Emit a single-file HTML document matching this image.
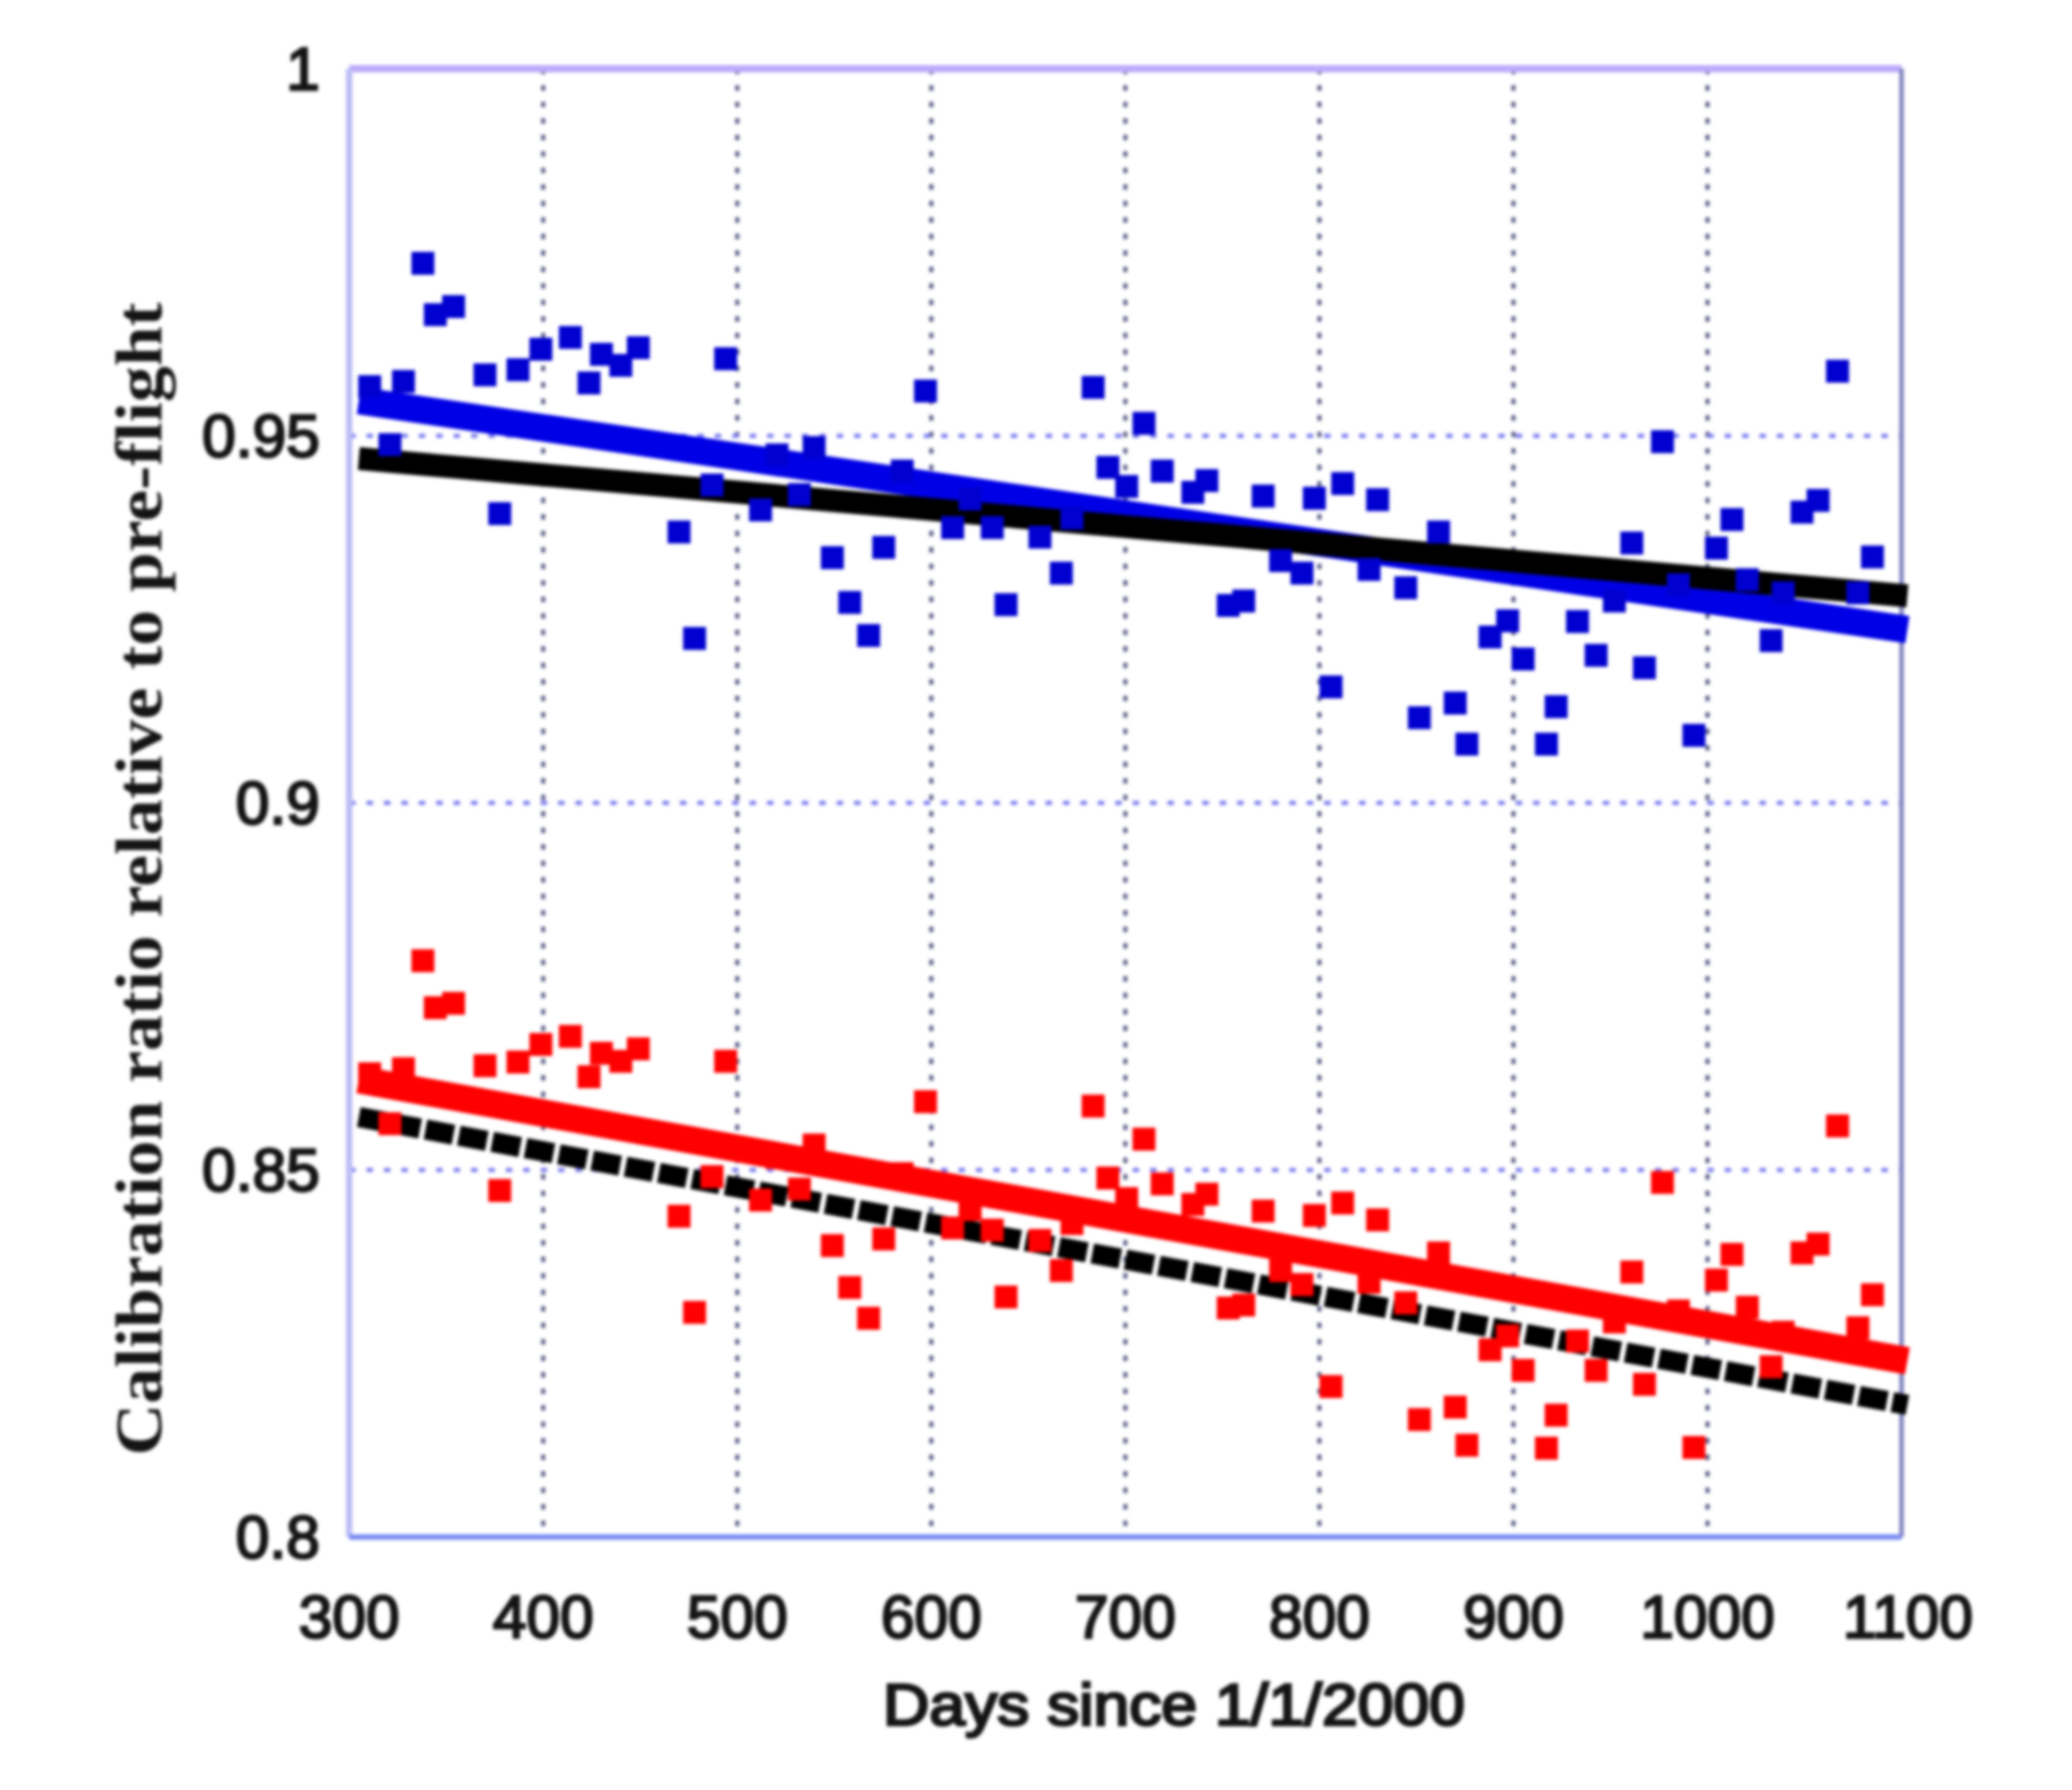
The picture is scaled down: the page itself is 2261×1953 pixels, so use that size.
<!DOCTYPE html>
<html>
<head>
<meta charset="utf-8">
<title>Calibration ratio chart</title>
<style>
html,body{margin:0;padding:0;background:#fff;width:2261px;height:1953px;overflow:hidden}
svg{display:block}
#plot-content{filter:blur(1.8px)}
.tick{font-family:"Liberation Sans",sans-serif;font-size:66px;fill:#141414;stroke:#141414;stroke-width:2.6px}
</style>
</head>
<body>
<svg id="chart" xmlns="http://www.w3.org/2000/svg" width="2261" height="1953" viewBox="0 0 2261 1953">
<g id="plot-content">
<g id="grid"></g>
<g id="frame"></g>
<g id="series"></g>
<g id="ticks"></g>
<text x="1281" y="1882" text-anchor="middle" textLength="635" lengthAdjust="spacingAndGlyphs" font-family="'Liberation Sans',sans-serif" font-size="64" fill="#141414" stroke="#141414" stroke-width="3">Days since 1/1/2000</text>
<text transform="translate(176,1588) rotate(-90)" textLength="1258" lengthAdjust="spacingAndGlyphs" font-family="'Liberation Serif',serif" font-weight="700" font-size="72" fill="#141414">Calibration ratio relative to pre-flight</text>
</g>
</svg>
<script>
const xTicks = [300,400,500,600,700,800,900,1000,1100];
const yTicks = [0.8,0.85,0.9,0.95,1];
const yTickLabels = ["0.8","0.85","0.9","0.95","1"];
const days = [310.6,321,328,338,344.4,353.8,370,377.6,387,398.8,414,423.6,430,440,449,470,478,487,494,512,520.5,532,539.6,549,558,567.7,575.5,585,597,611,620,631.4,638.5,656,667,672.5,683.4,691,700.7,709.6,719,734.8,742,753,761,771,780,791,797.4,806,812,825.6,830,844.5,851.5,861.4,870,876,888,897,905,917,922,933,942.6,952,961,967.5,976.8,985,993,1004.6,1012.6,1020.5,1032.8,1039,1048.7,1057,1067,1077.5,1085];
const blueValues = [.9567,.9488,.9574,.9735,.9665,.9676,.9583,.9394,.959,.9618,.9634,.9572,.9611,.9596,.962,.9369,.9224,.9433,.9605,.9399,.9474,.942,.9484,.9334,.9273,.9228,.9348,.9452,.9561,.9375,.9414,.9375,.927,.9362,.9313,.9388,.9566,.9457,.9431,.9517,.9452,.9423,.9439,.9269,.9275,.9418,.933,.9313,.9415,.9158,.9435,.9318,.9413,.9293,.9116,.9369,.9136,.908,.9226,.9248,.9196,.908,.9131,.9247,.9201,.9275,.9354,.9184,.9492,.9297,.9092,.9347,.9386,.9304,.9221,.9286,.9396,.9412,.9588,.9286,.9335];
const redValues = [.8631,.8563,.8638,.8785,.8721,.8727,.8642,.8472,.8647,.8671,.8682,.8627,.8659,.8648,.8665,.8437,.8306,.8491,.8648,.8459,.8517,.8474,.8534,.8397,.834,.8298,.8406,.8495,.8593,.8421,.8446,.8418,.8327,.8404,.8363,.8427,.8587,.8489,.8461,.8542,.8481,.8453,.8467,.8312,.8316,.8444,.8363,.8344,.8438,.8205,.8455,.8347,.8432,.8319,.816,.8387,.8177,.8125,.8255,.8274,.8227,.8121,.8166,.8267,.8227,.8293,.8361,.8208,.8483,.8308,.8122,.835,.8385,.8313,.8232,.8279,.8387,.8399,.856,.8285,.833];
const fitDays = [305,1103];
const blueFit = [.9548,.9236];
const blackUpperFit = [.9469,.9282];
const redFit = [.8623,.824];
const blackLowerFit = [.8572,.818];

const NS = "http://www.w3.org/2000/svg";
const LEFT = 381, RIGHT = 2075, TOP = 75, BOTTOM = 1677;
function xS(v){ return LEFT + (v - 300) * (RIGHT - LEFT) / 800; }
function yS(v){ return BOTTOM - (v - 0.8) * (BOTTOM - TOP) / 0.2; }
function make(tag, parent, props){
  const el = document.createElementNS(NS, tag);
  for (const k in props) el.setAttribute(k, props[k]);
  parent.appendChild(el);
  return el;
}

const grid = document.getElementById("grid");
xTicks.slice(1, -1).forEach(function(t){
  const l = make("line", grid, {x1:xS(t), x2:xS(t), y1:TOP, y2:BOTTOM, stroke:"#5d6088", "stroke-width":4.5, "stroke-dasharray":"6 12"});
  
  
});
yTicks.slice(1, -1).forEach(function(t){
  const l = make("line", grid, {x1:LEFT, x2:RIGHT, y1:yS(t), y2:yS(t), stroke:"#7c7cf0", "stroke-width":4.5, "stroke-dasharray":"7 12"});
  
  
});

const frame = document.getElementById("frame");
const frameTop = make("line", frame, {x1:LEFT, x2:RIGHT, y1:TOP, y2:TOP, stroke:"#bcaafa", "stroke-width":8});


const frameLeft = make("line", frame, {x1:LEFT, x2:LEFT, y1:TOP, y2:BOTTOM, stroke:"#bcbef6", "stroke-width":7});


const frameRight = make("line", frame, {x1:RIGHT, x2:RIGHT, y1:TOP, y2:BOTTOM, stroke:"#8083c0", "stroke-width":5});


const frameBottom = make("line", frame, {x1:LEFT, x2:RIGHT, y1:BOTTOM, y2:BOTTOM, stroke:"#7a8cf2", "stroke-width":6});



const series = document.getElementById("series");
function fitLine(values, color, width, dash){
  const l = make("line", series, {x1:xS(fitDays[0]), x2:xS(fitDays[1]), y1:yS(values[0]), y2:yS(values[1]), stroke:color, "stroke-width":width});
  if (dash) l.setAttribute("stroke-dasharray", dash);
  return l;
}
function points(values, color){
  values.forEach(function(v, i){
    const r = make("rect", series, {x:xS(days[i]) - 12.5, y:yS(v) - 12.5, width:25, height:25, fill:color});
    
    
  });
}
const blueLine = fitLine(blueFit, "#0000e6", 30);


const blackUpperLine = fitLine(blackUpperFit, "#000000", 25);


points(blueValues, "#0000d0");
const blackLowerLine = fitLine(blackLowerFit, "#000000", 22, "31 6");


const redLine = fitLine(redFit, "#ff0000", 30);


points(redValues, "#ff0000");

const ticks = document.getElementById("ticks");
xTicks.forEach(function(t){
  const el = make("text", ticks, {x:xS(t) + (t === 1100 ? 7 : 0), y:1787, "text-anchor":"middle", class:"tick"});
  el.textContent = String(t);
  
  
});
yTicks.forEach(function(t, i){
  const el = make("text", ticks, {x:349, y:yS(t) + 23, "text-anchor":"end", class:"tick"});
  el.textContent = yTickLabels[i];
  
  
});
</script>
</body>
</html>
